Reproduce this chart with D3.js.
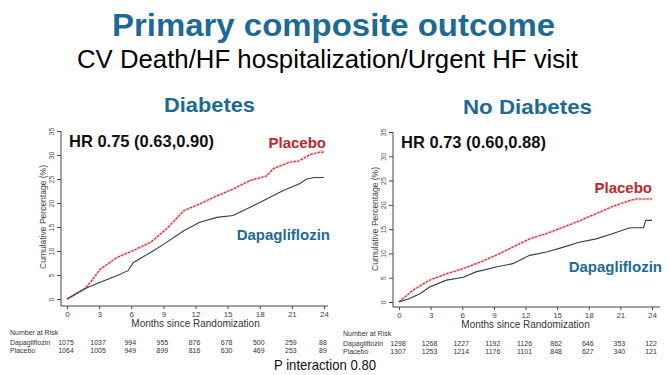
<!DOCTYPE html>
<html>
<head>
<meta charset="utf-8">
<script src="https://cdn.jsdelivr.net/npm/d3@7"></script>
<style>
  body { margin: 0; background: #fff; }
  svg { display: block; font-family: "Liberation Sans", Arial, sans-serif; }
</style>
</head>
<body>
<script>
// months since randomization and cumulative percentages
const diabMonths    = [0, 1.6, 2.2, 3.1, 4.7, 6.2, 7.8, 9.3, 10.9, 12.4, 14.0, 15.5, 17.1, 18.6, 19.3, 20.8, 21.7, 22.7, 23.6, 24];
const diabPlacebo   = [0, 2.0, 3.5, 6.2, 8.7, 10.1, 11.8, 14.6, 18.4, 19.8, 21.5, 22.9, 24.7, 25.6, 27.2, 28.5, 28.8, 30.1, 30.6, 30.6];
const diabDapaMonths = [0, 1.6, 3.1, 4.7, 5.7, 6.2, 7.8, 9.3, 10.9, 12.4, 14.0, 15.5, 17.1, 18.6, 20.2, 21.7, 22.4, 23.1, 24];
const diabDapa      = [0, 2.1, 3.5, 4.9, 5.9, 7.6, 9.7, 11.8, 14.2, 16.0, 17.0, 17.4, 19.1, 20.8, 22.6, 24.0, 25.0, 25.3, 25.3];

const noDiabMonths  = [0, 1.3, 2.9, 4.5, 6.1, 7.7, 9.2, 10.8, 12.4, 14.0, 15.6, 17.2, 18.7, 20.3, 21.9, 22.5, 24];
const noDiabPlacebo = [0, 2.4, 4.5, 5.8, 6.9, 8.2, 9.6, 11.3, 13.0, 14.1, 15.4, 16.8, 18.2, 19.7, 20.9, 21.2, 21.2];
const noDiabDapaMonths = [0, 1.0, 2.0, 2.9, 4.5, 6.1, 7.3, 9.2, 10.8, 12.4, 14.0, 15.6, 17.1, 18.7, 20.3, 21.9, 23.2, 23.4, 24];
const noDiabDapa    = [0, 0.7, 1.7, 3.1, 4.5, 5.1, 6.2, 7.2, 7.9, 9.6, 10.3, 11.3, 12.3, 13.0, 14.1, 15.3, 15.3, 16.8, 16.8];

const xTicks = [0, 3, 6, 9, 12, 15, 18, 21, 24];
const yTicks = [0, 5, 10, 15, 20, 25, 30, 35];

const diabRiskDapa    = [1075, 1037, 994, 955, 876, 678, 500, 259, 88];
const diabRiskPlacebo = [1064, 1005, 949, 899, 816, 630, 469, 253, 89];
const noDiabRiskDapa    = [1298, 1268, 1227, 1192, 1126, 862, 646, 353, 122];
const noDiabRiskPlacebo = [1307, 1253, 1214, 1176, 1101, 848, 627, 340, 121];

const blue = "#1d6a96";
const red = "#c0262d";
const dark = "#2f3f50";

const svg = d3.select("body").append("svg")
    .attr("width", 669)
    .attr("height", 375);

svg.append("text")
    .attr("x", 112).attr("y", 36)
    .attr("font-size", 32).attr("font-weight", "bold")
    .attr("textLength", 443).attr("lengthAdjust", "spacingAndGlyphs")
    .attr("fill", blue)
    .text("Primary composite outcome");

svg.append("text")
    .attr("x", 77).attr("y", 68)
    .attr("font-size", 25)
    .attr("textLength", 501).attr("lengthAdjust", "spacingAndGlyphs")
    .attr("fill", "#000")
    .text("CV Death/HF hospitalization/Urgent HF visit");

svg.append("text")
    .attr("x", 274).attr("y", 370)
    .attr("font-size", 15)
    .attr("textLength", 102).attr("lengthAdjust", "spacingAndGlyphs")
    .attr("fill", "#111")
    .text("P interaction 0.80");

const panels = [
    {
        title: "Diabetes", titleX: 164, titleY: 112, titleW: 91,
        hr: "HR 0.75 (0.63,0.90)", hrY: 147,
        axisX: 61, x0: 67, x1: 324, yTop: 131, yZero: 299, axisY: 306, axisEnd: 328,
        placeboLabel: [326, 148], dapaLabel: [330, 240],
        placebo: [diabMonths, diabPlacebo], dapa: [diabDapaMonths, diabDapa],
        riskDapa: diabRiskDapa, riskPlacebo: diabRiskPlacebo, riskX: 10
    },
    {
        title: "No Diabetes", titleX: 463, titleY: 114, titleW: 129,
        hr: "HR 0.73 (0.60,0.88)", hrY: 148,
        axisX: 393, x0: 399, x1: 652, yTop: 132, yZero: 302, axisY: 307, axisEnd: 660,
        placeboLabel: [652, 193], dapaLabel: [662, 272],
        placebo: [noDiabMonths, noDiabPlacebo], dapa: [noDiabDapaMonths, noDiabDapa],
        riskDapa: noDiabRiskDapa, riskPlacebo: noDiabRiskPlacebo, riskX: 343
    }
];

panels.forEach(p => {
    const x = d3.scaleLinear().domain([0, 24]).range([p.x0, p.x1]);
    const y = d3.scaleLinear().domain([0, 35]).range([p.yZero, p.yTop]);
    const g = svg.append("g");

    g.append("text")
        .attr("x", p.titleX).attr("y", p.titleY)
        .attr("font-size", 21).attr("font-weight", "bold")
        .attr("textLength", p.titleW).attr("lengthAdjust", "spacingAndGlyphs")
        .attr("fill", blue)
        .text(p.title);

    // y axis
    const yAxis = g.append("g")
        .attr("transform", `translate(${p.axisX},0)`)
        .call(d3.axisLeft(y).tickValues(yTicks).tickSize(4).tickSizeOuter(0));
    yAxis.select(".domain").attr("stroke", "#444").attr("d", `M0,${p.yTop}V${p.axisY}`);
    yAxis.selectAll(".tick line").attr("stroke", "#444");
    yAxis.selectAll(".tick text")
        .attr("font-size", 7).attr("fill", "#555")
        .attr("text-anchor", "middle")
        .attr("x", 0).attr("y", 0).attr("dy", 0)
        .attr("transform", "translate(-7,0) rotate(-90)");

    g.append("text")
        .attr("transform", `translate(${p.axisX - 15},${(p.yTop + p.yZero) / 2 + 2}) rotate(-90)`)
        .attr("text-anchor", "middle")
        .attr("font-size", 8.5).attr("fill", "#444")
        .text("Cumulative Percentage (%)");

    // x axis
    const xAxis = g.append("g")
        .attr("transform", `translate(0,${p.axisY})`)
        .call(d3.axisBottom(x).tickValues(xTicks).tickSize(3).tickSizeOuter(0));
    xAxis.select(".domain").attr("stroke", "#444").attr("d", `M${p.axisX},0H${p.axisEnd}`);
    xAxis.selectAll(".tick line").attr("stroke", "#444");
    xAxis.selectAll(".tick text")
        .attr("font-size", 8).attr("fill", "#444").attr("y", 5);

    g.append("text")
        .attr("x", x(12)).attr("y", p.axisY + 21)
        .attr("text-anchor", "middle")
        .attr("font-size", 10).attr("fill", "#333")
        .text("Months since Randomization");

    // curves
    const line = d3.line()
        .x(d => x(d[0])).y(d => y(d[1]));

    g.append("path")
        .datum(d3.zip(p.placebo[0], p.placebo[1]))
        .attr("fill", "none")
        .attr("stroke", "#f5b8c0").attr("stroke-width", 3).attr("opacity", 0.55)
        .attr("d", line);
    g.append("path")
        .datum(d3.zip(p.placebo[0], p.placebo[1]))
        .attr("fill", "none")
        .attr("stroke", red).attr("stroke-width", 1.1)
        .attr("stroke-dasharray", "2.5,1.2")
        .attr("d", line);
    g.append("path")
        .datum(d3.zip(p.dapa[0], p.dapa[1]))
        .attr("fill", "none")
        .attr("stroke", dark).attr("stroke-width", 1.1)
        .attr("d", line);

    g.append("text")
        .attr("x", p.axisX + 8).attr("y", p.hrY)
        .attr("font-size", 16.5).attr("font-weight", "bold")
        .attr("fill", "#111")
        .text(p.hr);

    g.append("text")
        .attr("x", p.placeboLabel[0]).attr("y", p.placeboLabel[1])
        .attr("text-anchor", "end")
        .attr("font-size", 15).attr("font-weight", "bold")
        .attr("fill", red)
        .text("Placebo");

    g.append("text")
        .attr("x", p.dapaLabel[0]).attr("y", p.dapaLabel[1])
        .attr("text-anchor", "end")
        .attr("font-size", 15).attr("font-weight", "bold")
        .attr("fill", blue)
        .text("Dapagliflozin");

    // number at risk table
    const ry = p.axisY + 29;
    g.append("text")
        .attr("x", p.riskX).attr("y", ry)
        .attr("font-size", 7).attr("fill", "#333")
        .text("Number at Risk");
    [["Dapagliflozin", p.riskDapa, ry + 10], ["Placebo", p.riskPlacebo, ry + 18]].forEach(([name, vals, yy]) => {
        g.append("text")
            .attr("x", p.riskX).attr("y", yy)
            .attr("font-size", 7).attr("fill", "#333")
            .text(name);
        g.selectAll(null)
            .data(vals)
            .enter()
            .append("text")
            .attr("x", (d, i) => x(xTicks[i]) - 1)
            .attr("y", yy)
            .attr("text-anchor", "middle")
            .attr("font-size", 7).attr("fill", "#333")
            .text(d => d);
    });
});
</script>
</body>
</html>
